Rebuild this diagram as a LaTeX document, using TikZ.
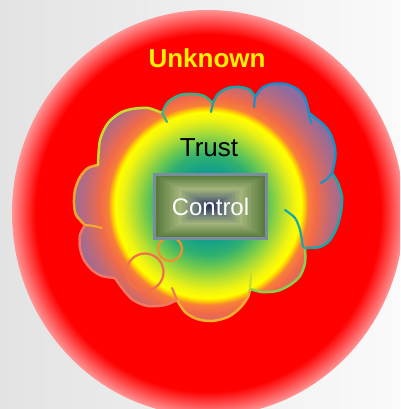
\documentclass[tikz,border=0pt]{standalone}
\usepackage{fontspec}
\setmainfont{Liberation Sans}
\definecolor{bgl}{HTML}{E3E3E3}
\definecolor{bgr}{HTML}{FAFAFA}
\definecolor{redin}{HTML}{FF0000}
\definecolor{redout}{HTML}{FF9494}
\definecolor{tc0}{HTML}{56688F}
\definecolor{tc1}{HTML}{3E8494}
\definecolor{tc2}{HTML}{12A08A}
\definecolor{tc3}{HTML}{30B070}
\definecolor{tc4}{HTML}{6CC850}
\definecolor{tc5}{HTML}{B8E030}
\definecolor{tc6}{HTML}{F0F410}
\definecolor{tc7}{HTML}{FFFF00}
\definecolor{tc8}{HTML}{FFD000}
\definecolor{tc9}{HTML}{F88038}
\definecolor{tc10}{HTML}{F26A48}
\definecolor{tc11}{HTML}{C06A78}
\definecolor{tc12}{HTML}{926C9C}
\definecolor{dkgreen}{HTML}{55773A}
\definecolor{ltgreen}{HTML}{A3B57A}
\definecolor{midg}{HTML}{6E7E78}
\definecolor{navyc}{HTML}{28305C}
\definecolor{boxborder}{HTML}{7B8C9C}
\definecolor{colK}{HTML}{F4A830}
\definecolor{colJ}{HTML}{F07468}
\definecolor{colI}{HTML}{F07860}
\definecolor{colH}{HTML}{F2B030}
\definecolor{colG}{HTML}{88D050}
\definecolor{colF}{HTML}{18A8A8}
\definecolor{colE}{HTML}{1A92C8}
\definecolor{colD}{HTML}{1C8CCC}
\definecolor{colC}{HTML}{20A0A8}
\definecolor{colB}{HTML}{38B088}
\definecolor{colA}{HTML}{C8DC30}
\definecolor{circA}{HTML}{F39030}
\definecolor{circB}{HTML}{F2704A}
\pgfdeclareradialshading{unknownshade}{\pgfpoint{0bp}{0bp}}{color(0bp)=(redin); color(22bp)=(redin); color(25bp)=(redout); color(50bp)=(redout)}
\pgfdeclareradialshading{trustshade}{\pgfpoint{0bp}{0bp}}{color(0bp)=(tc0); color(2.68bp)=(tc1); color(6.25bp)=(tc2); color(8.93bp)=(tc3); color(11.07bp)=(tc4); color(13.39bp)=(tc5); color(15.36bp)=(tc6); color(16.61bp)=(tc7); color(17.14bp)=(tc8); color(17.86bp)=(tc9); color(19.29bp)=(tc10); color(21.79bp)=(tc11); color(24.64bp)=(tc12); color(50bp)=(tc12)}
\begin{document}
\begin{tikzpicture}[x=1pt,y=-1pt,
  lobe/.style={line width=2.5pt, line join=round, line cap=round},
  puff/.style={line width=2.2pt, line cap=round},
  txt/.style={inner sep=0pt, font=\fontsize{26}{30}\selectfont},
  ctrlbox/.style={draw=boxborder, line width=3pt, minimum width=112pt, minimum height=64pt, inner sep=0pt, text=white, font=\fontsize{24}{28}\selectfont}]
\useasboundingbox (0,0) rectangle (400,409);
\clip (0,0) rectangle (400,409);
% background
\shade[left color=bgl, right color=bgr] (0,0) rectangle (400,409);
% unknown disc
\shade[shading=unknownshade] (208,213) ellipse [x radius=196pt, y radius=203pt];
% cloud fill
\begin{scope}
\clip plot[smooth] coordinates {(98,165) (88,168) (80,177) (75,190) (74,203) (76,215) (85,225)}
 -- plot[smooth] coordinates {(85,225) (80,235) (80,248) (84,260) (92,270) (102,276) (115,278)}
 -- plot[smooth] coordinates {(115,278) (122,288) (133,300) (148,306) (165,305) (177,300)}
 -- plot[smooth] coordinates {(177,300) (185,312) (197,319) (212,321) (228,317) (240,308) (248,297) (250,289)}
 -- plot[smooth] coordinates {(250,289) (262,292) (277,291) (290,285) (300,276) (305,263) (305,248)}
 -- plot[smooth] coordinates {(305,248) (320,247) (330,240) (337,227) (341,212) (342,197) (338,183) (332,173)}
 -- plot[smooth] coordinates {(332,173) (335,160) (335,148) (331,135) (325,126) (318,120) (309,113)}
 -- plot[smooth] coordinates {(309,113) (305,98) (297,89) (285,84) (272,84) (262,88) (255,97)}
 -- plot[smooth] coordinates {(255,97) (250,90) (240,87) (228,88) (218,94) (213,103)}
 -- plot[smooth] coordinates {(213,103) (204,96) (193,94) (180,95) (168,102) (162,113)}
 -- plot[smooth] coordinates {(162,113) (148,108) (132,109) (120,113) (108,123) (100,140) (98,165)}
 -- cycle;
\shade[shading=trustshade] (68,65) rectangle (348,345);
\end{scope}
% cloud outline
\draw[lobe, colK] plot[smooth] coordinates {(98,165) (88,168) (80,177) (75,190) (74,203) (76,215) (85,225)};
\draw[lobe, colJ] plot[smooth] coordinates {(85,225) (80,235) (80,248) (84,260) (92,270) (102,276) (115,278)};
\draw[lobe, colI] plot[smooth] coordinates {(115,278) (122,288) (133,300) (148,306) (165,305) (177,300)};
\draw[lobe, colH] plot[smooth] coordinates {(177,300) (185,312) (197,319) (212,321) (228,317) (240,308) (248,297) (250,289)};
\draw[lobe, colG] plot[smooth] coordinates {(250,289) (262,292) (277,291) (290,285) (300,276) (305,263) (305,248)};
\draw[lobe, colF] plot[smooth] coordinates {(305,248) (320,247) (330,240) (337,227) (341,212) (342,197) (338,183) (332,173)};
\draw[lobe, colE] plot[smooth] coordinates {(332,173) (335,160) (335,148) (331,135) (325,126) (318,120) (309,113)};
\draw[lobe, colD] plot[smooth] coordinates {(309,113) (305,98) (297,89) (285,84) (272,84) (262,88) (255,97)};
\draw[lobe, colC] plot[smooth] coordinates {(255,97) (250,90) (240,87) (228,88) (218,94) (213,103)};
\draw[lobe, colB] plot[smooth] coordinates {(213,103) (204,96) (193,94) (180,95) (168,102) (162,113)};
\draw[lobe, colA] plot[smooth] coordinates {(162,113) (148,108) (132,109) (120,113) (108,123) (100,140) (98,165)};
% inner puff lines
\draw[puff, colB] (162,113) -- (167,122);
\draw[puff, colC] (213,103) -- (211,112);
\draw[puff, colD] (255,97) -- (254,107);
\draw[puff, colE] (309,113) -- (311,123);
\draw[puff, colE] plot[smooth] coordinates {(332,173) (327,179) (321,183)};
\draw[puff, colF] plot[smooth] coordinates {(285,210) (295,218) (300,230) (303,247)};
\draw[puff, colA] (250,289) -- (251,274);
\draw[puff, colI] (177,300) -- (172,288);
\draw[puff, colK] plot[smooth] coordinates {(85,225) (94,226) (102,228)};
% small circles
\draw[line width=2.2pt, circA] (170,249) circle (12pt);
\draw[line width=2.2pt, circB] (145,272) circle (18.5pt);
% control box gradient
\foreach \i in {0,...,18} {
  \pgfmathsetmacro\p{\i/18*100}
  \pgfmathsetmacro\s{1-\i/41}
  \fill[ltgreen!\p!dkgreen] ({210.5-55.5*\s},{206.5-31.5*\s}) rectangle ({210.5+55.5*\s},{206.5+31.5*\s});
}
\foreach \i in {19,...,29} {
  \pgfmathsetmacro\p{(\i-18)/11*100}
  \pgfmathsetmacro\s{1-\i/41}
  \fill[midg!\p!ltgreen] ({210.5-55.5*\s},{206.5-31.5*\s}) rectangle ({210.5+55.5*\s},{206.5+31.5*\s});
}
\foreach \i in {30,...,40} {
  \pgfmathsetmacro\p{(\i-29)/11*100}
  \pgfmathsetmacro\s{1-\i/41}
  \fill[navyc!\p!midg] ({210.5-55.5*\s},{206.5-31.5*\s}) rectangle ({210.5+55.5*\s},{206.5+31.5*\s});
}
\node[ctrlbox] (control) at (210.5,206.5) {Control};
% labels
\node[txt, text=black] (trust) at (209,148) {Trust};
\node[txt, text=yellow, font=\fontsize{26}{30}\selectfont\bfseries] (unknown) at (207,58) {Unknown};
\end{tikzpicture}
\end{document}
